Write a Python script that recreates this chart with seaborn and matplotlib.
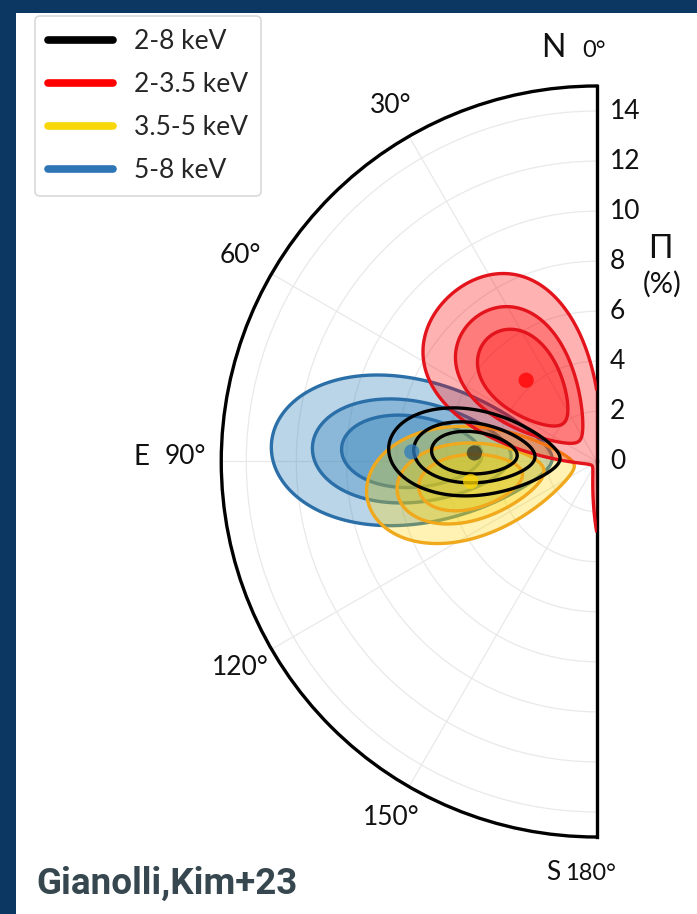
import numpy as np
import pandas as pd
import matplotlib
matplotlib.use("Agg")
import matplotlib.pyplot as plt
import seaborn as sns
from matplotlib.patches import Rectangle
from matplotlib.lines import Line2D

sns.set_theme(style="white")
plt.rcParams["font.family"] = ["Lato", "DejaVu Sans"]

# Polarization results per energy band
bands = ["2-8 keV", "2-3.5 keV", "3.5-5 keV", "5-8 keV"]
pol_degree = [4.9, 4.3, 5.1, 7.4]        # Π (%)
pol_angle = [86, 41, 99, 87]             # ψ (deg, from N through E)
sigma_par = [1.13, 1.5, 1.38, 1.85]      # 1σ along the polarization vector in Q-U (%)
sigma_perp = [1.1, 1.8, 1.42, 1.87]      # 1σ across it in Q-U (%)

line_colors = ["black", "#e3141c", "#f0a81c", "#2b6fa8"]
fill_colors = [None, "red", "gold", "#1f77b4"]
dot_colors = ["#333322", "red", "gold", "#2e7bbf"]
legend_colors = ["black", "red", "#f7d708", "#2e75b6"]
layer = [5, 4, 3, 2]  # black on top, blue at the bottom

# Δχ² for 68.3 / 90 / 99 % confidence, two parameters
conf_levels = [2.30, 4.61, 9.21]

theta_ticks = [0, 30, 60, 90, 120, 150, 180]
theta_labels = ["", "30°", "60°", "", "120°", "150°", ""]
r_ticks = [0, 2, 4, 6, 8, 10, 12, 14]
r_max = 15

W, H = 697, 914
fig = plt.figure(figsize=(W / 100, H / 100), dpi=100)
fig.patch.set_facecolor("white")


def px(x, y):
    """Pixel position (from top-left) to figure fraction."""
    return x / W, 1 - y / H


# square box; the half disc fills its height and sits centred in it
ax = fig.add_axes([33.5 / W, 77 / H, 751 / W, 751 / H], projection="polar")
ax.set_theta_zero_location("N")
ax.set_theta_direction(1)
ax.set_thetamin(0)
ax.set_thetamax(180)
ax.set_rlim(0, r_max)
ax.set_facecolor("white")

# Polar grid and the Stokes Q-U plane it represents
th = np.linspace(0, np.pi, 721)
rr = np.linspace(0, r_max, 601)
TH, RR = np.meshgrid(th, rr)
Q = RR * np.cos(2 * TH)
U = RR * np.sin(2 * TH)

for i in range(len(bands)):
    psi2 = np.radians(2 * pol_angle[i])
    q0, u0 = pol_degree[i] * np.cos(psi2), pol_degree[i] * np.sin(psi2)
    dq, du = Q - q0, U - u0
    d_par = dq * np.cos(psi2) + du * np.sin(psi2)
    d_perp = -dq * np.sin(psi2) + du * np.cos(psi2)
    chi2 = (d_par / sigma_par[i]) ** 2 + (d_perp / sigma_perp[i]) ** 2
    z = layer[i]
    if fill_colors[i] is not None:
        for lev in conf_levels:
            ax.contourf(TH, RR, chi2, levels=[0, lev], colors=[fill_colors[i]],
                        alpha=0.3, zorder=z)
    ax.contour(TH, RR, chi2, levels=conf_levels, colors=[line_colors[i]],
               linewidths=2.4, zorder=z + 0.5)

best = pd.DataFrame({
    "theta": np.radians(pol_angle),
    "r": pol_degree,
    "band": bands,
})
sns.scatterplot(data=best, x="theta", y="r", hue="band", palette=dict(zip(bands, dot_colors)),
                s=120, edgecolor="none", alpha=0.75, legend=False, ax=ax, zorder=10)
ax.set_xlabel("")
ax.set_ylabel("")

ax.set_xticks(np.radians(theta_ticks))
ax.set_xticklabels(theta_labels)
ax.set_yticks(r_ticks)
ax.set_yticklabels([str(v) for v in r_ticks])
ax.tick_params(axis="x", labelsize=19, pad=13, colors="#111111")
ax.tick_params(axis="y", labelsize=19, colors="#111111")
ax.grid(True, color="#e9e9e9", linewidth=0.9)
for sp in ax.spines.values():
    sp.set_color("black")
    sp.set_linewidth(2.4)

# Compass points with their angles
ink = "#111111"
fig.text(*px(553, 57), "N", fontsize=23, ha="center", va="baseline", color=ink)
fig.text(*px(594, 57), "0°", fontsize=17, ha="center", va="baseline", color=ink)
fig.text(*px(141, 457), "E", fontsize=20, ha="center", va="center", color=ink)
fig.text(*px(185, 457), "90°", fontsize=19, ha="center", va="center", color=ink)
fig.text(*px(553, 873), "S", fontsize=19, ha="center", va="center", color=ink)
fig.text(*px(590, 873), "180°", fontsize=17, ha="center", va="center", color=ink)

handles = [Line2D([0], [0], color=c, lw=5.5) for c in legend_colors]
leg = fig.legend(handles, bands, loc="upper left",
                 bbox_to_anchor=px(35, 16), borderaxespad=0,
                 fontsize=19, handlelength=2.45, handletextpad=0.8,
                 labelspacing=0.68, frameon=True, fancybox=True,
                 borderpad=0.5)
leg.get_frame().set_edgecolor("#d0d0d0")
leg.get_frame().set_linewidth(1.2)

fig.text(*px(660, 249), "Π", ha="center", va="center", fontsize=23, color=ink)
fig.text(*px(662, 284), "(%)", ha="center", va="center", fontsize=21, color=ink)

# Page frame strips and credit line
fig.add_artist(Rectangle((0, 1 - 13 / H), 1, 13 / H, transform=fig.transFigure,
                         facecolor="#0b3762", edgecolor="none", zorder=20))
fig.add_artist(Rectangle((0, 0), 16 / W, 1, transform=fig.transFigure,
                         facecolor="#0b3762", edgecolor="none", zorder=20))
fig.text(*px(36, 884), "Gianolli,Kim+23", family="Roboto", fontweight="bold",
         fontsize=26.5, color="#37474f", va="center", ha="left")

fig.savefig("out.png", dpi=100)
